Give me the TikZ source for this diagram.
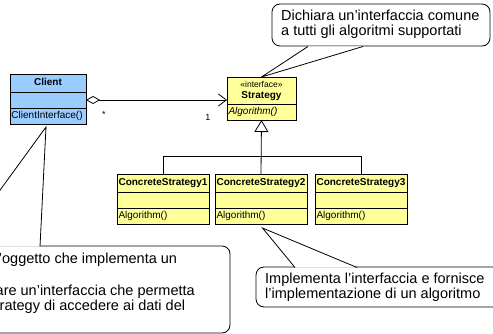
\documentclass[tikz,border=0pt]{standalone}
\usepackage{fontspec}
\setmainfont{Liberation Sans}
\usetikzlibrary{arrows.meta,positioning}

\definecolor{clientblue}{RGB}{153,204,255}
\definecolor{classyellow}{RGB}{255,255,153}

\tikzset{
	umlbox/.style={draw, line width=0.8pt, outer sep=0pt, inner xsep=1.5pt, inner ysep=0pt, font=\fontsize{10}{12}\selectfont},
	classhead/.style={umlbox, align=center, font=\fontsize{10}{12}\selectfont\bfseries, minimum height=18pt, text height=7.5pt, text depth=2pt},
	classpart/.style={umlbox, align=left, minimum height=16pt, text height=7.5pt, text depth=2pt},
	mult/.style={font=\fontsize{9}{10}\selectfont, inner sep=0pt},
	notebox/.style={draw, fill=white, line width=0.8pt, rounded corners=8pt},
	notetext/.style={font=\fontsize{14.5}{15}\selectfont, align=left, inner sep=0pt, anchor=north west}
}

\begin{document}
\begin{tikzpicture}[x=1pt, y=-1pt]
	\useasboundingbox (0,0) rectangle (493,334);
	\clip (0,0) rectangle (493,334);

	% Client
	\node[classhead, fill=clientblue, text width=73pt, anchor=north west] (client) at (10,74) {Client};
	\node[classpart, fill=clientblue, text width=73pt, below=0pt of client] (client-attr) {};
	\node[classpart, fill=clientblue, text width=73pt, below=0pt of client-attr] (client-ops) {ClientInterface()};

	% Strategy interface
	\node[umlbox, fill=classyellow, align=center, text width=66pt, minimum height=27pt, anchor=north west] (strategy) at (227,77)
		{{\fontsize{8.5}{11}\selectfont «interface»}\\[-1pt]\textbf{Strategy}};
	\node[classpart, fill=classyellow, text width=66pt, below=0pt of strategy] (strategy-ops) {\itshape Algorithm()};

	% concrete strategies
	\foreach \i/\x in {1/117, 2/215, 3/315} {
		\node[classhead, fill=classyellow, text width=89pt, anchor=north west] (cs\i) at (\x,174) {ConcreteStrategy\i};
		\node[classpart, fill=classyellow, text width=89pt, below=0pt of cs\i] (cs\i-attr) {};
		\node[classpart, fill=classyellow, text width=89pt, below=0pt of cs\i-attr] (cs\i-ops) {Algorithm()};
	}

	% aggregation Client -> Strategy
	\draw[line width=0.8pt, {Diamond[open,length=14pt,width=8pt]}-{Straight Barb[length=8pt,width=12pt]}]
		(client-attr.east) -- (client-attr.east -| strategy.west);
	\node[mult] (mult-many) at (104,114) {*};
	\node[mult] (mult-one) at (208,117) {1};

	% generalization
	\draw[line width=0.8pt, -{Triangle[open,length=12pt,width=14pt]}] (cs2.north) -- (strategy-ops.south);
	\draw[line width=0.8pt] (cs1.north) -- ++(0,-18) -| (cs3.north);

	% notes
	\draw[notebox] (272,4) rectangle (490,46);
	\draw[line width=0.8pt, fill=white] (308,46.5) -- (strategy.north) -- (363,46.5);
	\node[notetext] (note-strategy) at (281,9.5) {Dichiara un’interfaccia comune\\a tutti gli algoritmi supportati};

	\draw[notebox] (256,267) rectangle (510,307);
	\draw[line width=0.8pt, fill=white] (295,267.5) -- ([xshift=1.5pt,yshift=-4pt]cs2-ops.south) -- (357,267.5);
	\node[notetext] (note-concrete) at (265,272.5) {Implementa l’interfaccia e fornisce\\l’implementazione di un algoritmo};

	\draw[notebox] (-60,246) rectangle (230,333);
	\draw[line width=0.8pt, fill=white] (-41,246.5) -- ([xshift=-2pt,yshift=-3pt]client-ops.south) -- (40,246.5);
	\node[notetext] (note-client) at (-4.5,252.5) {l’oggetto che implementa un\\[17pt]are un’interfaccia che permetta\\trategy di accedere ai dati del};
\end{tikzpicture}
\end{document}
